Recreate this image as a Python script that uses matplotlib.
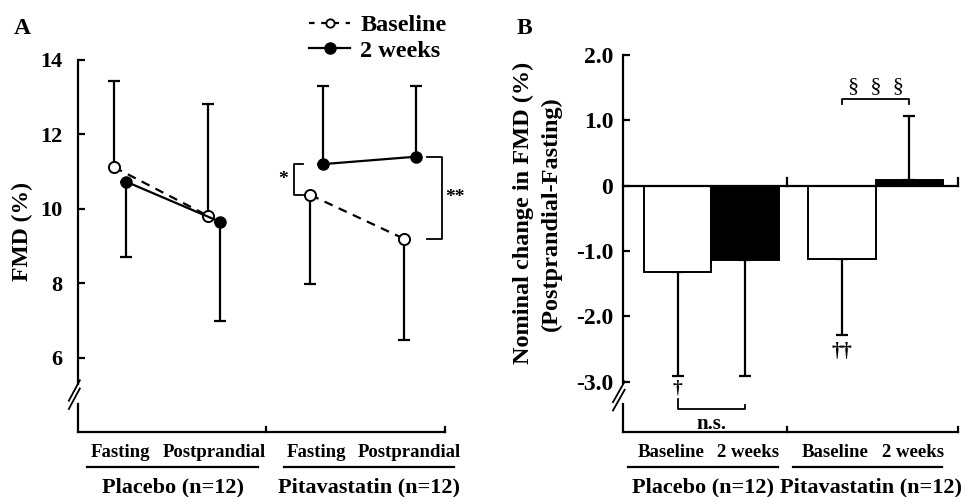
import matplotlib
matplotlib.use('Agg')
import matplotlib.pyplot as plt
from matplotlib.lines import Line2D

plt.rcParams['font.family'] = ['Liberation Serif', 'DejaVu Serif']
plt.rcParams['font.weight'] = 'bold'
plt.rcParams['axes.labelweight'] = 'bold'

# ---- panel A data: FMD (%) ----
timepoints = ['Fasting', 'Postprandial', 'Fasting', 'Postprandial']
groups = ['Placebo (n=12)', 'Pitavastatin (n=12)']
baseline_mean = [11.12, 9.81, 10.37, 9.20]
baseline_err = [2.32, 3.01, 2.39, 2.73]
week2_mean = [10.73, 9.65, 11.20, 11.40]
week2_err = [2.03, 2.67, 2.10, 1.90]

# ---- panel B data: nominal change (postprandial - fasting) ----
bar_labels = ['Baseline', '2 weeks', 'Baseline', '2 weeks']
change_mean = [-1.32, -1.13, -1.12, 0.09]
change_err = [1.60, 1.79, 1.16, 0.98]

W, H = 971, 497
fig = plt.figure(figsize=(W / 100, H / 100), dpi=100)


def px_axes(l, t, r, b):
    return fig.add_axes([l / W, 1 - b / H, (r - l) / W, (b - t) / H])


lw = 1.6

# ================= panel A =================
axA = px_axes(78, 60, 445, 432)
xpos = [0, 1, 2.09, 3.08]
off = 0.064
axA.set_xlim(-0.447, 3.457)
axA.set_ylim(4, 14)

for i in range(4):
    xb, xw = xpos[i] - off, xpos[i] + off
    # placebo: baseline bar up, 2wk down; pitavastatin: reversed
    if i < 2:
        yb, yw = [[0], [baseline_err[i]]], [[week2_err[i]], [0]]
    else:
        yb, yw = [[baseline_err[i]], [0]], [[0], [week2_err[i]]]
    axA.errorbar(xb, baseline_mean[i], yerr=yb, fmt='none',
                 ecolor='black', elinewidth=lw, capsize=4, capthick=lw)
    axA.errorbar(xw, week2_mean[i], yerr=yw, fmt='none',
                 ecolor='black', elinewidth=lw, capsize=4, capthick=lw)

for g in range(2):
    sl = slice(2 * g, 2 * g + 2)
    xs = xpos[sl]
    axA.plot([x - off for x in xs], baseline_mean[sl], ls=(0, (4, 3)), color='black', lw=lw,
             marker='o', mfc='white', mec='black', mew=1.4, ms=8, zorder=4)
    axA.plot([x + off for x in xs], week2_mean[sl], ls='-', color='black', lw=lw,
             marker='o', mfc='black', mec='black', ms=8, zorder=5)

# significance brackets
bx = xpos[2] - off - 0.18
axA.plot([bx + 0.1, bx, bx, bx + 0.1], [week2_mean[2], week2_mean[2], baseline_mean[2], baseline_mean[2]],
         color='black', lw=1.3)
axA.text(bx - 0.06, (week2_mean[2] + baseline_mean[2]) / 2, '*', ha='right', va='center', fontsize=14)
bx2 = xpos[3] + off + 0.12
axA.plot([bx2, bx2 + 0.16, bx2 + 0.16, bx2], [week2_mean[3], week2_mean[3], baseline_mean[3], baseline_mean[3]],
         color='black', lw=1.3)
axA.text(bx2 + 0.2, (week2_mean[3] + baseline_mean[3]) / 2, '**', ha='left', va='center', fontsize=14)

axA.set_yticks([6, 8, 10, 12, 14])
axA.set_yticklabels(['6', '8', '10', '12', '14'], fontsize=16)
axA.tick_params(axis='y', direction='in', length=5, width=lw, pad=11)
axA.set_xticks([])
for s in ['top', 'right', 'left', 'bottom']:
    axA.spines[s].set_visible(False)

tA = axA.transAxes
# y axis with break
axA.plot([0, 0], [1, 0.13], transform=tA, color='black', lw=lw, clip_on=False)
axA.plot([0, 0], [0.075, 0], transform=tA, color='black', lw=lw, clip_on=False)
for dy in (0, 0.022):
    axA.plot([-0.025, 0.005], [0.062 + dy, 0.117 + dy], transform=tA, color='black', lw=1.3, clip_on=False)
# x axis
axA.plot([0, 1], [0, 0], transform=tA, color='black', lw=lw, clip_on=False)
for xx in (0.512, 1.0):
    axA.plot([xx, xx], [0, 0.013], transform=tA, color='black', lw=lw, clip_on=False)

axA.set_ylabel('FMD (%)', fontsize=17)
axA.yaxis.set_label_coords(-0.123, 0.54)

# category labels
for i, lab in enumerate(timepoints):
    axA.text(xpos[i], -0.055, lab, transform=axA.get_xaxis_transform(), ha='center', va='center',
             fontsize=13.5)
for g, lab in enumerate(groups):
    x0, x1 = xpos[2 * g], xpos[2 * g + 1]
    axA.plot([x0 - 0.35, x1 + 0.47], [-0.094, -0.094], transform=axA.get_xaxis_transform(),
             color='black', lw=lw, clip_on=False)
    axA.text((x0 + x1) / 2 + 0.06, -0.148, lab, transform=axA.get_xaxis_transform(),
             ha='center', va='center', fontsize=16)

# legend
handles = [Line2D([], [], ls=(0, (2.5, 3)), color='black', lw=lw, marker='o', mfc='white',
                  mec='black', mew=1.3, ms=6),
           Line2D([], [], ls='-', color='black', lw=lw, marker='o', mfc='black', mec='black', ms=8)]
fig.legend(handles, ['Baseline', '2 weeks'], loc='center left', bbox_to_anchor=(297 / W, 1 - 38 / H),
           frameon=False, fontsize=17.5, handlelength=1.7, handletextpad=0.4, labelspacing=0.15,
           borderpad=0)

fig.text(14 / W, 1 - 28 / H, 'A', fontsize=17, ha='left', va='center')

# ================= panel B =================
axB = px_axes(623, 55, 958, 432)
bx_pos = [-0.205, 0.205, 0.795, 1.205]
axB.set_xlim(-0.537, 1.5)
axB.set_ylim(-3.77, 2.0)
colors = ['white', 'black', 'white', 'black']
axB.bar(bx_pos, change_mean, width=0.41, color=colors, edgecolor='black', linewidth=1.4, zorder=3)
for i in range(4):
    if change_mean[i] < 0:
        yerr = [[change_err[i]], [0]]
    else:
        yerr = [[0], [change_err[i]]]
    axB.errorbar(bx_pos[i], change_mean[i], yerr=yerr, fmt='none', ecolor='black',
                 elinewidth=lw, capsize=4, capthick=lw, zorder=2)

tB = axB.transAxes
axB.plot([0, 1], [0, 0], transform=axB.get_yaxis_transform(), color='black', lw=lw, clip_on=False, zorder=4)
axB.plot([0.463, 0.463], [0, 0.12], color='black', lw=lw, clip_on=False)
axB.plot([1.5, 1.5], [0, 0.12], color='black', lw=lw, clip_on=False)

# daggers and brackets
lo0 = change_mean[0] - change_err[0]
lo1 = change_mean[1] - change_err[1]
axB.text(bx_pos[0], lo0 - 0.18, '†', ha='center', va='center', fontsize=14)
axB.plot([bx_pos[0], bx_pos[0], bx_pos[1], bx_pos[1]], [lo0 - 0.35, -3.42, -3.42, -3.35],
         color='black', lw=1.3)
axB.text((bx_pos[0] + bx_pos[1]) / 2, -3.65, 'n.s.', ha='center', va='center', fontsize=15)
lo2 = change_mean[2] - change_err[2]
axB.text(bx_pos[2], lo2 - 0.27, '††', ha='center', va='center', fontsize=15)
axB.plot([bx_pos[2], bx_pos[2], bx_pos[3], bx_pos[3]], [1.25, 1.32, 1.32, 1.25], color='black', lw=1.3)
axB.text((bx_pos[2] + bx_pos[3]) / 2, 1.52, '§  §  §', ha='center', va='center', fontsize=16,
         fontweight='normal')

axB.set_yticks([-3, -2, -1, 0, 1, 2])
axB.set_yticklabels(['-3.0', '-2.0', '-1.0', '0', '1.0', '2.0'], fontsize=17)
axB.tick_params(axis='y', direction='in', length=5, width=lw, pad=7)
axB.set_xticks([])
for s in ['top', 'right', 'left', 'bottom']:
    axB.spines[s].set_visible(False)

axB.plot([0, 0], [1, 0.13], transform=tB, color='black', lw=lw, clip_on=False)
axB.plot([0, 0], [0.075, 0], transform=tB, color='black', lw=lw, clip_on=False)
for dy in (0, 0.022):
    axB.plot([-0.03, 0.005], [0.057 + dy, 0.112 + dy], transform=tB, color='black', lw=1.3, clip_on=False)
axB.plot([0, 1], [0, 0], transform=tB, color='black', lw=lw, clip_on=False)
for xx in (0.49, 1.0):
    axB.plot([xx, xx], [0, 0.013], transform=tB, color='black', lw=lw, clip_on=False)

axB.set_ylabel('Nominal change in FMD (%)\n(Postprandial-Fasting)', fontsize=17.5, linespacing=1.45)
axB.yaxis.set_label_coords(-0.182, 0.58)

for i, lab in enumerate(bar_labels):
    axB.text(bx_pos[i] - 0.04 if i % 2 == 0 else bx_pos[i] + 0.02, -0.055, lab,
             transform=axB.get_xaxis_transform(), ha='center', va='center', fontsize=13.5)
for g, lab in enumerate(groups):
    x0, x1 = bx_pos[2 * g], bx_pos[2 * g + 1]
    axB.plot([x0 - 0.3, x1 + 0.2], [-0.094, -0.094], transform=axB.get_xaxis_transform(),
             color='black', lw=lw, clip_on=False)
    axB.text((x0 + x1) / 2 - 0.05 + 0.02 * g, -0.148, lab, transform=axB.get_xaxis_transform(),
             ha='center', va='center', fontsize=16)

fig.text(517 / W, 1 - 28 / H, 'B', fontsize=17, ha='left', va='center')

fig.savefig('out.png', dpi=100)
